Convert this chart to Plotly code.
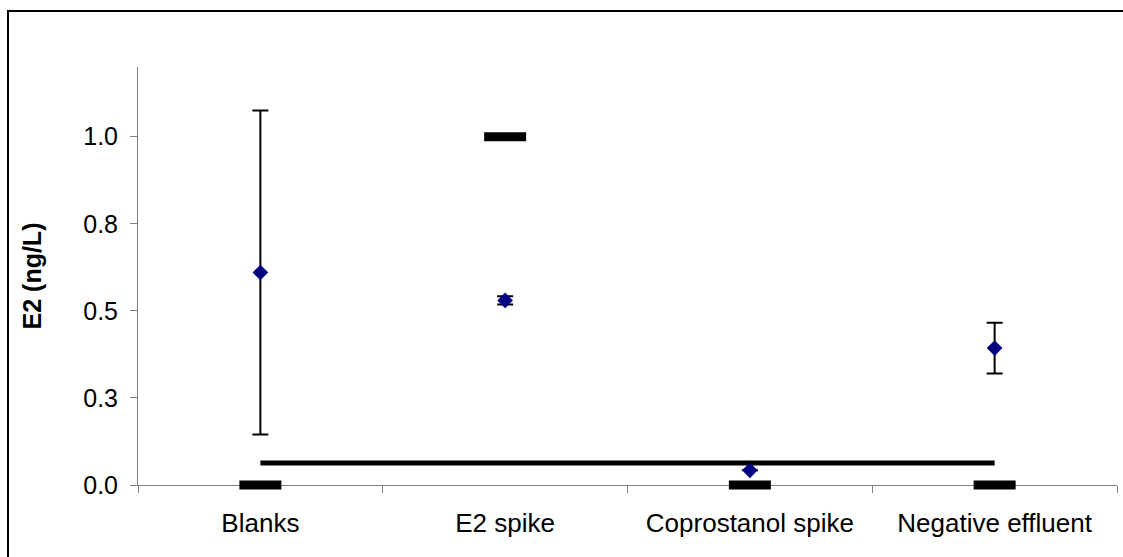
import plotly.graph_objects as go

# Sample groups along the x axis
categories = ["Blanks", "E2 spike", "Coprostanol spike", "Negative effluent"]

# Measured E2 concentration (ng/L) with standard deviation
measured = [0.61, 0.53, 0.042, 0.393]
measured_sd = [0.465, 0.012, 0.0, 0.073]

# Expected (nominal) concentration for each group
expected = [0.0, 1.0, 0.0, 0.0]

# Method detection limit (ng/L)
detection_limit = [0.063, 0.063, 0.063, 0.063]

# Y axis ticks
y_tickvals = [0.0, 0.25, 0.5, 0.75, 1.0]
y_ticktext = ["0.0", "0.3", "0.5", "0.8", "1.0"]

FONT = "Liberation Sans, Arial, sans-serif"

fig = go.Figure()

fig.add_trace(go.Scatter(
    x=categories, y=detection_limit, mode="lines",
    line=dict(color="black", width=5),
    name="Detection limit", hoverinfo="skip", cliponaxis=False,
))

fig.add_trace(go.Scatter(
    x=categories, y=expected, mode="markers",
    marker=dict(symbol="line-ew", size=30, color="black",
                line=dict(color="black", width=9)),
    name="Expected", cliponaxis=False,
))

fig.add_trace(go.Scatter(
    x=categories, y=measured, mode="markers",
    marker=dict(symbol="diamond", size=12, color="#000080",
                line=dict(width=0)),
    error_y=dict(type="data", array=measured_sd, visible=True,
                 color="black", thickness=2, width=8),
    name="Measured", cliponaxis=False,
))

plot_w = 1123 - 138 - 6
plot_h = 557 - 67 - 72

# Outer chart frame
fig.add_shape(
    type="rect", xref="paper", yref="paper",
    x0=(8 - 138) / plot_w, x1=1.05,
    y0=-0.3, y1=(485 - 11) / plot_h,
    line=dict(color="black", width=2), fillcolor="rgba(0,0,0,0)",
    layer="below",
)

fig.update_layout(
    width=1123, height=557,
    margin=dict(l=138, r=6, t=67, b=72, pad=0),
    paper_bgcolor="white", plot_bgcolor="white",
    showlegend=False,
    font=dict(family=FONT, size=25, color="black"),
    xaxis=dict(
        type="category", range=[-0.5, 3.5],
        tickson="boundaries", ticks="outside", ticklen=7,
        tickcolor="#808080", showline=True, linecolor="#808080",
        linewidth=1, showgrid=False, zeroline=False,
        layer="below traces",
        tickfont=dict(family=FONT, size=26, color="black"),
        ticklabelstandoff=15,
    ),
    yaxis=dict(
        range=[0, 1.2], tickvals=y_tickvals, ticktext=y_ticktext,
        ticks="outside", ticklen=7, tickcolor="#808080",
        showline=True, linecolor="#808080", linewidth=1,
        showgrid=False, zeroline=False,
        layer="below traces",
        tickfont=dict(family=FONT, size=25, color="black"),
        ticklabelstandoff=7,
        title=dict(text="<b>E2 (ng/L)</b>", standoff=34,
                   font=dict(family=FONT, size=25, color="black")),
    ),
)

fig.write_html("out.html")
